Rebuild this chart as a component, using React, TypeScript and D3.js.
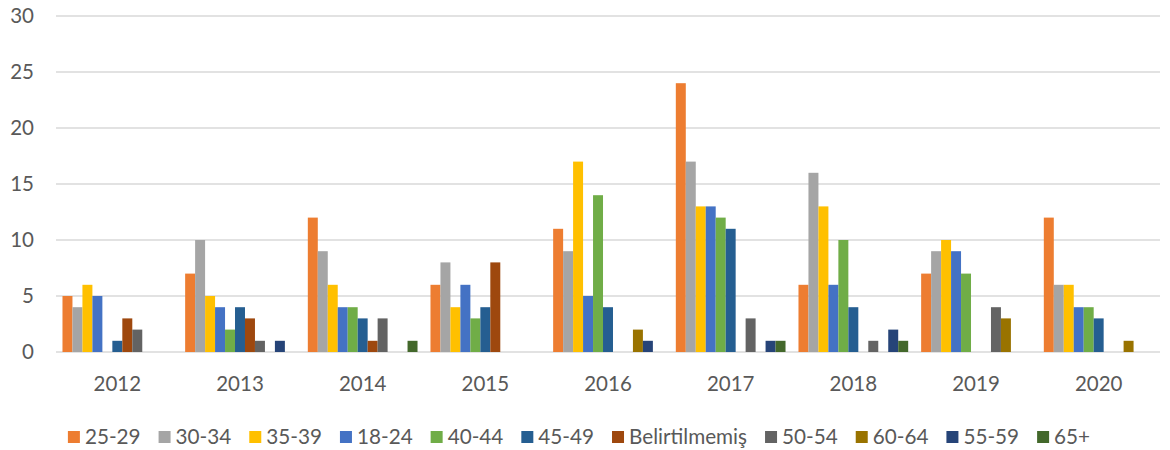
import * as d3 from 'd3';
import { useEffect, useRef } from 'react';

const years = ['2012', '2013', '2014', '2015', '2016', '2017', '2018', '2019', '2020'];
const seriesNames = ['25-29', '30-34', '35-39', '18-24', '40-44', '45-49', 'Belirtilmemiş', '50-54', '60-64', '55-59', '65+'];
const seriesColors = ['#ED7D31', '#A5A5A5', '#FFC000', '#4472C4', '#70AD47', '#255E91', '#9E480E', '#636363', '#997300', '#264478', '#43682B'];

const v2529 = [5, 7, 12, 6, 11, 24, 6, 7, 12];
const v3034 = [4, 10, 9, 8, 9, 17, 16, 9, 6];
const v3539 = [6, 5, 6, 4, 17, 13, 13, 10, 6];
const v1824 = [5, 4, 4, 6, 5, 13, 6, 9, 4];
const v4044 = [0, 2, 4, 3, 14, 12, 10, 7, 4];
const v4549 = [1, 4, 3, 4, 4, 11, 4, 0, 3];
const vBelirtilmemis = [3, 3, 1, 8, 0, 0, 0, 0, 0];
const v5054 = [2, 1, 3, 0, 0, 3, 1, 4, 0];
const v6064 = [0, 0, 0, 0, 2, 0, 0, 3, 1];
const v5559 = [0, 1, 0, 0, 1, 1, 2, 0, 0];
const v65 = [0, 0, 1, 0, 0, 1, 1, 0, 0];

const yTicks = [0, 5, 10, 15, 20, 25, 30];

const seriesValues = [v2529, v3034, v3539, v1824, v4044, v4549, vBelirtilmemis, v5054, v6064, v5559, v65];

const WIDTH = 1170;
const HEIGHT = 450;
const MARGIN = { top: 16, right: 10, bottom: 98, left: 56 };
const FONT = 'Lato, "Open Sans", sans-serif';
const TEXT_COLOR = '#595959';

export default function App() {
  const ref = useRef<SVGSVGElement>(null);

  useEffect(() => {
    document.body.style.margin = '0';
    const svg = d3.select(ref.current);
    svg.selectAll('*').remove();

    const x0 = d3.scaleBand().domain(years).range([MARGIN.left, WIDTH - MARGIN.right]);
    const x1 = d3.scaleBand().domain(seriesNames).range([0, x0.bandwidth()]).paddingOuter(0.65);
    const y = d3.scaleLinear().domain([0, 30]).range([HEIGHT - MARGIN.bottom, MARGIN.top]);

    // grid
    svg.append('g')
      .selectAll('line')
      .data(yTicks)
      .join('line')
      .attr('x1', MARGIN.left)
      .attr('x2', WIDTH - MARGIN.right)
      .attr('y1', d => y(d))
      .attr('y2', d => y(d))
      .attr('stroke', '#D9D9D9')
      .attr('stroke-width', 1.3);

    svg.append('g')
      .selectAll('text')
      .data(yTicks)
      .join('text')
      .attr('x', 34)
      .attr('y', d => y(d))
      .attr('dy', '0.35em')
      .attr('text-anchor', 'end')
      .attr('font-family', FONT)
      .attr('font-size', 20.5)
      .attr('fill', TEXT_COLOR)
      .text(d => d);

    // bars
    const groups = svg.append('g')
      .selectAll('g')
      .data(years)
      .join('g')
      .attr('transform', d => `translate(${x0(d)},0)`);

    groups.selectAll('rect')
      .data((_, i) => seriesNames.map((s, k) => ({ s, k, v: seriesValues[k][i] })).filter(d => d.v > 0))
      .join('rect')
      .attr('x', d => x1(d.s)!)
      .attr('width', x1.bandwidth())
      .attr('y', d => y(d.v))
      .attr('height', d => y(0) - y(d.v))
      .attr('fill', d => seriesColors[d.k]);

    // x labels
    svg.append('g')
      .selectAll('text')
      .data(years)
      .join('text')
      .attr('x', d => x0(d)! + x0.bandwidth() / 2)
      .attr('y', 391)
      .attr('text-anchor', 'middle')
      .attr('font-family', FONT)
      .attr('font-size', 20.5)
      .attr('fill', TEXT_COLOR)
      .text(d => d);

    // legend
    const box = 12;
    const boxGap = 5;
    const itemGap = 18;
    const legend = svg.append('g');
    const items = legend.selectAll('g')
      .data(seriesNames)
      .join('g');
    items.append('rect')
      .attr('width', box)
      .attr('height', box)
      .attr('y', -box / 2)
      .attr('fill', (_, i) => seriesColors[i]);
    items.append('text')
      .attr('x', box + boxGap)
      .attr('dy', '0.35em')
      .attr('font-family', FONT)
      .attr('font-size', 20.7)
      .attr('fill', TEXT_COLOR)
      .text(d => d);

    const widths: number[] = [];
    items.select('text').each(function () {
      widths.push((this as SVGTextElement).getComputedTextLength());
    });
    const total = d3.sum(widths, w => w + box + boxGap) + itemGap * (widths.length - 1);
    let cx = 579 - total / 2;
    items.attr('transform', (_, i) => {
      const t = `translate(${cx},437)`;
      cx += box + boxGap + widths[i] + itemGap;
      return t;
    });
  }, []);

  return <svg ref={ref} width={WIDTH} height={HEIGHT} style={{ display: 'block', background: '#fff' }} />;
}
